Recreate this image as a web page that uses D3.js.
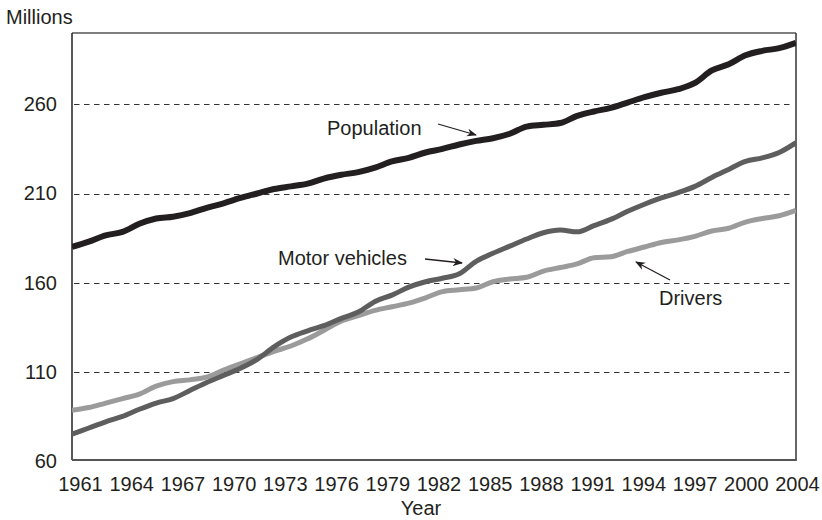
<!DOCTYPE html>
<html>
<head>
<meta charset="utf-8">
<script src="https://cdn.jsdelivr.net/npm/d3@7"></script>
<style>
  html, body { margin: 0; padding: 0; background: #fff; }
  svg { display: block; }
  text { font-family: "Liberation Sans", Arial, Helvetica, sans-serif; fill: #231f20; }
</style>
</head>
<body>
<svg id="chart" width="822" height="520"></svg>
<script>
// Annual series, millions, 1961-2004
const years = d3.range(1961, 2005);

const population = [
  180, 183, 186.5, 188.5, 193, 196, 197, 199, 202, 204.5,
  207.5, 210, 212.5, 214, 215.5, 218.5, 220.5, 222, 224.5, 228,
  230, 233, 235, 237.5, 239.5, 241, 243.5, 247.5, 248.5, 249.5,
  253.5, 256, 258, 261, 264, 266.5, 268.5, 272, 279, 282.5,
  287.5, 290, 291.5, 294.5
];

const motorVehicles = [
  75, 78.5, 82, 85, 89, 92.5, 95, 99.5, 104, 108,
  112, 117, 124, 129.5, 133, 136, 140, 143.5, 149.5, 153,
  157.5, 160.5, 162.5, 165, 172, 176.5, 180.5, 184.5, 188, 189.5,
  188.5, 192, 195.5, 200, 204, 207.5, 210.5, 214, 219, 223.5,
  228, 230, 233, 238.5
];

const drivers = [
  88.5, 90, 92.5, 95, 97.5, 102, 104.5, 105.5, 107, 111,
  114.5, 118, 121.5, 124.5, 128.5, 133.5, 138.5, 141.5, 144.5, 146.5,
  148.5, 151.5, 155, 156, 157, 160.5, 162, 163, 166.5, 168.5,
  170.5, 174, 174.5, 177.5, 180, 182.5, 184, 186, 189, 190.5,
  194, 196, 197.5, 200.5
];

const yTicks = [60, 110, 160, 210, 260];
const xTickLabels = ["1961", "1964", "1967", "1970", "1973", "1976", "1979", "1982",
                     "1985", "1988", "1991", "1994", "1997", "2000", "2004"];

const seriesNames = ["Population", "Motor vehicles", "Drivers"];

const svg = d3.select("#chart");

const plotLeft = 72, plotRight = 796, plotTop = 33, plotBottom = 460;

const x = d3.scaleLinear().domain([1961, 2004]).range([plotLeft, plotRight]);
const y = d3.scaleLinear().domain([60, 300]).range([461, plotTop]);
const xLabelScale = d3.scalePoint().domain(xTickLabels).range([80, 797]);

// dashed reference lines
svg.append("g")
  .selectAll("line")
  .data(yTicks.slice(1))
  .join("line")
  .attr("x1", plotLeft + 2)
  .attr("x2", plotRight - 6)
  .attr("y1", d => Math.round(y(d)) + 0.5)
  .attr("y2", d => Math.round(y(d)) + 0.5)
  .attr("stroke", "#333")
  .attr("stroke-width", 1)
  .attr("stroke-dasharray", "5.5,4.5");

// frame
svg.append("line").attr("x1", plotLeft).attr("x2", plotRight).attr("y1", plotTop).attr("y2", plotTop)
  .attr("stroke", "#555").attr("stroke-width", 1.5);
svg.append("line").attr("x1", plotRight).attr("x2", plotRight).attr("y1", plotTop).attr("y2", plotBottom)
  .attr("stroke", "#333").attr("stroke-width", 1.5);
svg.append("line").attr("x1", plotLeft).attr("x2", plotLeft).attr("y1", plotTop).attr("y2", plotBottom)
  .attr("stroke", "#231f20").attr("stroke-width", 1.5);
svg.append("line").attr("x1", plotLeft).attr("x2", plotRight + 0.75).attr("y1", plotBottom).attr("y2", plotBottom)
  .attr("stroke", "#555").attr("stroke-width", 2.2);

// series lines
const line = d3.line()
  .x((d, i) => x(years[i]))
  .y(d => y(d))
  .curve(d3.curveMonotoneX);

const series = [
  { name: seriesNames[2], values: drivers, color: "#9b9b9b", width: 5 },
  { name: seriesNames[1], values: motorVehicles, color: "#5e5e5e", width: 5 },
  { name: seriesNames[0], values: population, color: "#231f20", width: 6 }
];

svg.append("clipPath").attr("id", "plot-clip")
  .append("rect").attr("x", plotLeft).attr("y", plotTop)
  .attr("width", plotRight - plotLeft).attr("height", plotBottom - plotTop);

svg.append("g").attr("clip-path", "url(#plot-clip)")
  .selectAll("path")
  .data(series)
  .join("path")
  .attr("d", d => line(d.values))
  .attr("fill", "none")
  .attr("stroke", d => d.color)
  .attr("stroke-width", d => d.width)
  .attr("stroke-linejoin", "round")
  .attr("stroke-linecap", "butt");

// y axis labels
const yAxis = d3.axisLeft(y).tickValues(yTicks).tickSize(0).tickPadding(15);
const gy = svg.append("g").attr("transform", `translate(${plotLeft},0)`).call(yAxis);
gy.select(".domain").remove();
gy.selectAll("text")
  .style("font-family", "'Liberation Sans', Arial, sans-serif")
  .style("font-size", "20px")
  .attr("fill", "#231f20");

// x axis labels
const xAxis = d3.axisBottom(xLabelScale).tickSize(0).tickPadding(0);
const gx = svg.append("g").attr("transform", `translate(0,${plotBottom})`).call(xAxis);
gx.select(".domain").remove();
gx.selectAll("text")
  .attr("dy", null)
  .attr("y", 30.5)
  .style("font-family", "'Liberation Sans', Arial, sans-serif")
  .style("font-size", "20px")
  .attr("fill", "#231f20");

// titles
svg.append("text").attr("x", 6).attr("y", 24)
  .style("font-size", "20px").text("Millions");
svg.append("text").attr("x", 421).attr("y", 515).attr("text-anchor", "middle")
  .style("font-size", "20px").text("Year");

// annotations with arrows
svg.append("defs").append("marker")
  .attr("id", "arrowhead")
  .attr("viewBox", "0 0 10 10")
  .attr("refX", 9).attr("refY", 5)
  .attr("markerWidth", 10).attr("markerHeight", 10)
  .attr("markerUnits", "userSpaceOnUse")
  .attr("orient", "auto")
  .append("path").attr("d", "M0,1 L10,5 L0,9 L3,5 Z").attr("fill", "#231f20");

const notes = [
  { text: seriesNames[0], tx: 327, ty: 135, x1: 438, y1: 124, x2: 476, y2: 135 },
  { text: seriesNames[1], tx: 278, ty: 265, x1: 425, y1: 259, x2: 462, y2: 263 },
  { text: seriesNames[2], tx: 659, ty: 305, x1: 670, y1: 280, x2: 636, y2: 262 }
];

const ng = svg.append("g");
ng.selectAll("text").data(notes).join("text")
  .attr("x", d => d.tx).attr("y", d => d.ty)
  .style("font-size", "20px")
  .text(d => d.text);
ng.selectAll("line").data(notes).join("line")
  .attr("x1", d => d.x1).attr("y1", d => d.y1)
  .attr("x2", d => d.x2).attr("y2", d => d.y2)
  .attr("stroke", "#231f20").attr("stroke-width", 1.3)
  .attr("marker-end", "url(#arrowhead)");
</script>
</body>
</html>
